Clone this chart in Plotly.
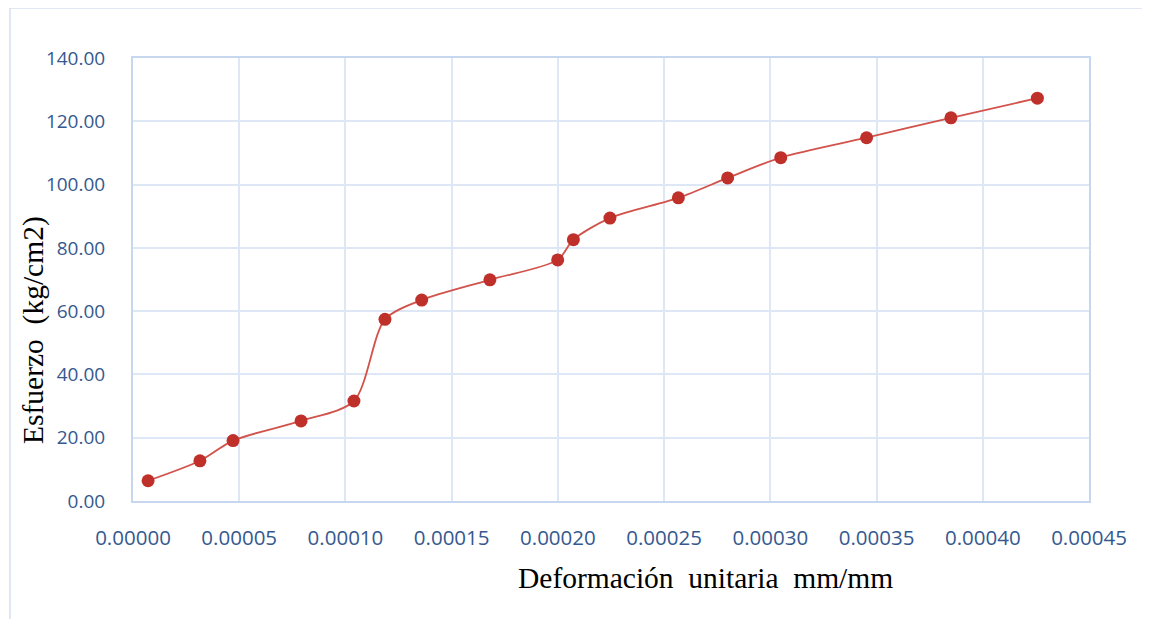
import plotly.graph_objects as go

# Data
deformacion = [0.0000071, 0.0000315, 0.0000471, 0.0000791, 0.0001040, 0.0001186,
               0.0001359, 0.0001680, 0.0001999, 0.0002073, 0.0002245, 0.0002567,
               0.0002799, 0.0003049, 0.0003453, 0.0003850, 0.0004257]
esfuerzo = [6.4, 12.7, 19.1, 25.3, 31.6, 57.4, 63.5, 69.9, 76.2, 82.6, 89.4, 95.8,
            102.1, 108.5, 114.8, 121.1, 127.3]

x_ticks = [0.0, 0.00005, 0.00010, 0.00015, 0.00020, 0.00025, 0.00030, 0.00035, 0.00040, 0.00045]
x_labels = ["0.00000", "0.00005", "0.00010", "0.00015", "0.00020", "0.00025",
            "0.00030", "0.00035", "0.00040", "0.00045"]
y_ticks = [0, 20, 40, 60, 80, 100, 120, 140]
y_labels = ["0.00", "20.00", "40.00", "60.00", "80.00", "100.00", "120.00", "140.00"]

x_title = "Deformación  unitaria  mm/mm"
y_title = "Esfuerzo  (kg/cm2)"

fig = go.Figure()
fig.add_trace(go.Scatter(
    x=deformacion, y=esfuerzo, mode="lines+markers",
    line=dict(color="#D2524C", width=1.8, shape="spline", smoothing=0.8),
    marker=dict(color="#C0302B", size=13, line=dict(width=0)),
    showlegend=False, hoverinfo="x+y",
))

ytick_font = dict(family="Open Sans, Lato, sans-serif", size=19, color="#35598F")
xtick_font = dict(family="Open Sans, Lato, sans-serif", size=20.5, color="#35598F")
grid_col = "#DDE7F5"
axis_col = "#C6D7EF"
title_font = dict(family="Liberation Serif, Times New Roman, serif", size=29.5, color="black")

fig.update_layout(
    width=1142, height=611,
    margin=dict(l=125, r=61, t=50, b=118),
    paper_bgcolor="white", plot_bgcolor="white",
    xaxis=dict(range=[0, 0.00045], tickvals=x_ticks, ticktext=x_labels,
               showgrid=True, gridcolor=grid_col, gridwidth=1.5,
               showline=True, linecolor=axis_col, linewidth=2, mirror=True,
               zeroline=False, ticks="", tickfont=xtick_font, ticklabelstandoff=17),
    yaxis=dict(range=[0, 140], tickvals=y_ticks, ticktext=y_labels,
               showgrid=True, gridcolor=grid_col, gridwidth=1.5,
               showline=True, linecolor=axis_col, linewidth=2, mirror=True,
               zeroline=False, ticks="", tickfont=ytick_font, ticklabelstandoff=22),
    shapes=[dict(type="rect", xref="paper", yref="paper",
                 x0=-0.1287, x1=1.0628, y0=-0.30, y1=1.1129,
                 line=dict(color="#D5E1F0", width=1.5), fillcolor="rgba(0,0,0,0)",
                 layer="below")],
    annotations=[
        dict(text=x_title, xref="paper", yref="paper", x=0.599, y=-0.174,
             showarrow=False, xanchor="center", yanchor="middle", font=title_font),
        dict(text=y_title, xref="paper", yref="paper", x=-0.1046, y=0.386,
             showarrow=False, xanchor="center", yanchor="middle", textangle=-90,
             font=title_font),
    ],
)

fig.write_html("out.html")
